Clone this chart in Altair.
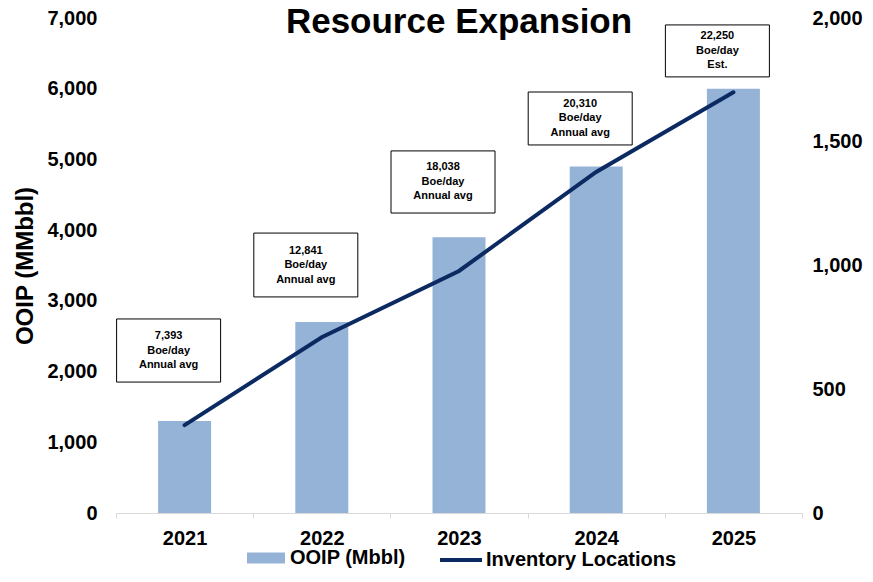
import altair as alt
import pandas as pd

FONT = "Liberation Sans"

years = ["2021", "2022", "2023", "2024", "2025"]
ooip = [1300, 2700, 3900, 4900, 6000]
locations = [355, 710, 978, 1378, 1700]
box_labels = [
    "7,393\nBoe/day\nAnnual avg",
    "12,841\nBoe/day\nAnnual avg",
    "18,038\nBoe/day\nAnnual avg",
    "20,310\nBoe/day\nAnnual avg",
    "22,250\nBoe/day\nEst.",
]
# annotation box extents, in right-axis units
box_bottom = [529, 873, 1212, 1487, 1762]
box_top = [784, 1131, 1463, 1701, 1972]

df = pd.DataFrame({
    "year": years,
    "ooip": ooip,
    "loc": locations,
    "label": box_labels,
    "b0": box_bottom,
    "b1": box_top,
})
df["bmid"] = (df["b0"] + df["b1"]) / 2
df["bar_series"] = "OOIP (Mbbl)"
df["line_series"] = "Inventory Locations"

xenc = alt.X(
    "year:N", sort=years,
    scale=alt.Scale(paddingInner=0, paddingOuter=0),
    axis=alt.Axis(title=None, labelAngle=0, tickBand="extent", domainColor="#d9d9d9",
                  tickColor="#d9d9d9", tickSize=5, labelFontSize=20, labelFontWeight="bold",
                  labelFont=FONT, labelColor="black", labelPadding=10, grid=False),
)
base = alt.Chart(df).encode(x=xenc)

bars = base.mark_bar(width=53).encode(
    y=alt.Y("ooip:Q", scale=alt.Scale(domain=[0, 7000]),
            axis=alt.Axis(title="OOIP (MMbbl)", values=[0, 1000, 2000, 3000, 4000, 5000, 6000, 7000],
                          format=",d", domain=False, ticks=False, grid=False, labelPadding=19,
                          labelFontSize=20, labelFontWeight="bold", labelFont=FONT, labelColor="black",
                          titleFontSize=24, titleFont=FONT, titleFontWeight="bold", titleColor="black",
                          titlePadding=9)),
    fill=alt.Fill("bar_series:N", scale=alt.Scale(range=["#95B3D7"]),
                  legend=alt.Legend(title=None, orient="none", legendX=131, legendY=521,
                                    symbolType="M-1,-0.29H1V0.29H-1Z", symbolSize=1444,
                                    symbolStrokeWidth=0, labelFontSize=20, labelFontWeight="bold",
                                    labelFont=FONT, labelColor="black", labelOffset=5,
                                    labelLimit=300)),
)

line = base.mark_line(strokeWidth=4, strokeCap="round").encode(
    y=alt.Y("loc:Q", scale=alt.Scale(domain=[0, 2000]),
            axis=alt.Axis(orient="right", title=None, values=[0, 500, 1000, 1500, 2000],
                          format=",d", domain=False, ticks=False, grid=False, labelPadding=10,
                          labelFontSize=20, labelFontWeight="bold", labelFont=FONT, labelColor="black")),
    stroke=alt.Stroke("line_series:N", scale=alt.Scale(range=["#0B2A62"]),
                      legend=alt.Legend(title=None, orient="none", legendX=322, legendY=519,
                                        symbolType="stroke", symbolSize=1764, symbolStrokeWidth=4,
                                        labelFontSize=20, labelFontWeight="bold", labelFont=FONT,
                                        labelColor="black", labelOffset=2, labelLimit=300)),
)

boxes = base.mark_bar(width=104, xOffset=-16, fill="white", stroke="black", strokeWidth=1).encode(
    y=alt.Y("b0:Q", scale=alt.Scale(domain=[0, 2000]), axis=None),
    y2="b1:Q",
)

texts = base.mark_text(dx=-16, dy=-14.5, lineBreak="\n", fontSize=11, fontWeight="bold", font=FONT,
                       lineHeight=14.5, baseline="middle", color="black").encode(
    y=alt.Y("bmid:Q", scale=alt.Scale(domain=[0, 2000]), axis=None),
    text="label:N",
)

chart = alt.layer(bars, line, boxes, texts).resolve_scale(
    y="independent", fill="independent", stroke="independent"
).properties(
    width=686, height=495,
    autosize=alt.AutoSizeParams(type="none"),
    padding={"left": 108, "right": 63, "top": 10, "bottom": 57},
    title=alt.Title("Resource Expansion", fontSize=35, font=FONT, fontWeight="bold", color="black",
                    anchor="middle", frame="group", offset=-32),
).configure_view(stroke=None)

chart.save("out.html", embed_options={"renderer": "svg", "actions": False})
